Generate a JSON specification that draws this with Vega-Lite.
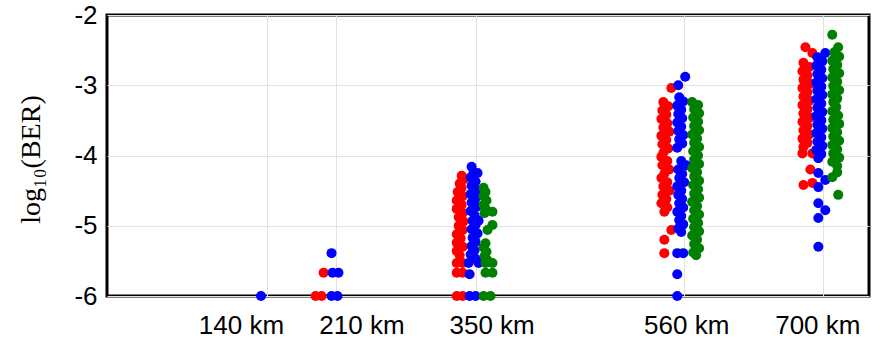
{
"$schema": "https://vega.github.io/schema/vega-lite/v6.json",
"width": 762, "height": 281,
"autosize": "none",
"padding": {"left": 107, "top": 15, "right": 6, "bottom": 46},
"background": "white",
"config": {"view": {"stroke": "black", "strokeWidth": 3}},
"datasets": {
"pts": [
{"km":189,"log_ber":-6,"series":"A"},{"km":195,"log_ber":-6,"series":"A"},{"km":197,"log_ber":-5.67,"series":"A"},
{"km":331,"log_ber":-6,"series":"A"},{"km":337,"log_ber":-6,"series":"A"},{"km":331,"log_ber":-5.67,"series":"A"},{"km":337,"log_ber":-5.67,"series":"A"},{"km":331,"log_ber":-5.53,"series":"A"},{"km":337,"log_ber":-5.53,"series":"A"},
{"km":334,"log_ber":-5.42,"series":"A"},{"km":331,"log_ber":-5.36,"series":"A"},{"km":337,"log_ber":-5.3,"series":"A"},{"km":331,"log_ber":-5.24,"series":"A"},{"km":335,"log_ber":-5.18,"series":"A"},{"km":331,"log_ber":-5.12,"series":"A"},{"km":337,"log_ber":-5.06,"series":"A"},{"km":333,"log_ber":-5.0,"series":"A"},{"km":338,"log_ber":-4.94,"series":"A"},{"km":333,"log_ber":-4.88,"series":"A"},{"km":337,"log_ber":-4.82,"series":"A"},{"km":331,"log_ber":-4.76,"series":"A"},{"km":336,"log_ber":-4.7,"series":"A"},{"km":331,"log_ber":-4.64,"series":"A"},{"km":337,"log_ber":-4.58,"series":"A"},{"km":332,"log_ber":-4.52,"series":"A"},{"km":336,"log_ber":-4.46,"series":"A"},{"km":334,"log_ber":-4.4,"series":"A"},{"km":338,"log_ber":-4.34,"series":"A"},{"km":336,"log_ber":-4.29,"series":"A"},
{"km":547,"log_ber":-3.04,"series":"A"},{"km":539,"log_ber":-3.24,"series":"A"},{"km":544,"log_ber":-3.3,"series":"A"},{"km":538,"log_ber":-3.36,"series":"A"},{"km":542,"log_ber":-3.42,"series":"A"},{"km":537,"log_ber":-3.48,"series":"A"},{"km":543,"log_ber":-3.54,"series":"A"},{"km":539,"log_ber":-3.6,"series":"A"},{"km":545,"log_ber":-3.66,"series":"A"},{"km":537,"log_ber":-3.72,"series":"A"},{"km":542,"log_ber":-3.78,"series":"A"},{"km":538,"log_ber":-3.84,"series":"A"},{"km":544,"log_ber":-3.9,"series":"A"},{"km":539,"log_ber":-3.96,"series":"A"},{"km":537,"log_ber":-4.02,"series":"A"},{"km":543,"log_ber":-4.08,"series":"A"},{"km":538,"log_ber":-4.14,"series":"A"},{"km":545,"log_ber":-4.2,"series":"A"},{"km":540,"log_ber":-4.26,"series":"A"},{"km":537,"log_ber":-4.32,"series":"A"},{"km":543,"log_ber":-4.38,"series":"A"},{"km":539,"log_ber":-4.44,"series":"A"},{"km":545,"log_ber":-4.5,"series":"A"},{"km":538,"log_ber":-4.56,"series":"A"},{"km":542,"log_ber":-4.62,"series":"A"},{"km":537,"log_ber":-4.68,"series":"A"},{"km":543,"log_ber":-4.74,"series":"A"},{"km":540,"log_ber":-4.8,"series":"A"},{"km":547,"log_ber":-5.06,"series":"A"},{"km":540,"log_ber":-5.2,"series":"A"},{"km":540,"log_ber":-5.39,"series":"A"},
{"km":682,"log_ber":-2.46,"series":"A"},{"km":689,"log_ber":-2.54,"series":"A"},{"km":680,"log_ber":-2.68,"series":"A"},{"km":686,"log_ber":-2.74,"series":"A"},{"km":679,"log_ber":-2.8,"series":"A"},{"km":684,"log_ber":-2.86,"series":"A"},{"km":680,"log_ber":-2.92,"series":"A"},{"km":687,"log_ber":-2.98,"series":"A"},{"km":679,"log_ber":-3.04,"series":"A"},{"km":684,"log_ber":-3.1,"series":"A"},{"km":680,"log_ber":-3.16,"series":"A"},{"km":686,"log_ber":-3.22,"series":"A"},{"km":679,"log_ber":-3.28,"series":"A"},{"km":684,"log_ber":-3.34,"series":"A"},{"km":680,"log_ber":-3.4,"series":"A"},{"km":687,"log_ber":-3.46,"series":"A"},{"km":679,"log_ber":-3.52,"series":"A"},{"km":684,"log_ber":-3.58,"series":"A"},{"km":680,"log_ber":-3.64,"series":"A"},{"km":686,"log_ber":-3.7,"series":"A"},{"km":679,"log_ber":-3.76,"series":"A"},{"km":684,"log_ber":-3.82,"series":"A"},{"km":680,"log_ber":-3.88,"series":"A"},{"km":679,"log_ber":-3.97,"series":"A"},{"km":689,"log_ber":-3.97,"series":"A"},{"km":687,"log_ber":-4.2,"series":"A"},{"km":689,"log_ber":-4.39,"series":"A"},{"km":680,"log_ber":-4.42,"series":"A"},
{"km":134,"log_ber":-6,"series":"B"},
{"km":205,"log_ber":-6,"series":"B"},{"km":211,"log_ber":-6,"series":"B"},{"km":206,"log_ber":-5.67,"series":"B"},{"km":212,"log_ber":-5.67,"series":"B"},{"km":205,"log_ber":-5.39,"series":"B"},
{"km":346,"log_ber":-4.16,"series":"B"},{"km":348,"log_ber":-4.25,"series":"B"},{"km":352,"log_ber":-4.25,"series":"B"},{"km":345,"log_ber":-4.31,"series":"B"},{"km":350,"log_ber":-4.37,"series":"B"},{"km":346,"log_ber":-4.43,"series":"B"},{"km":351,"log_ber":-4.49,"series":"B"},{"km":345,"log_ber":-4.55,"series":"B"},{"km":350,"log_ber":-4.61,"series":"B"},{"km":346,"log_ber":-4.67,"series":"B"},{"km":351,"log_ber":-4.73,"series":"B"},{"km":345,"log_ber":-4.79,"series":"B"},{"km":349,"log_ber":-4.85,"series":"B"},{"km":347,"log_ber":-4.93,"series":"B"},{"km":353,"log_ber":-4.93,"series":"B"},{"km":350,"log_ber":-4.99,"series":"B"},{"km":346,"log_ber":-5.05,"series":"B"},{"km":352,"log_ber":-5.11,"series":"B"},{"km":347,"log_ber":-5.17,"series":"B"},{"km":350,"log_ber":-5.23,"series":"B"},{"km":346,"log_ber":-5.29,"series":"B"},{"km":349,"log_ber":-5.35,"series":"B"},{"km":345,"log_ber":-5.41,"series":"B"},{"km":350,"log_ber":-5.47,"series":"B"},{"km":343,"log_ber":-5.53,"series":"B"},{"km":353,"log_ber":-5.53,"series":"B"},{"km":344,"log_ber":-5.69,"series":"B"},{"km":344,"log_ber":-6,"series":"B"},{"km":350,"log_ber":-6,"series":"B"},
{"km":561,"log_ber":-2.88,"series":"B"},{"km":554,"log_ber":-3.0,"series":"B"},{"km":555,"log_ber":-3.17,"series":"B"},{"km":559,"log_ber":-3.23,"series":"B"},{"km":553,"log_ber":-3.29,"series":"B"},{"km":557,"log_ber":-3.35,"series":"B"},{"km":554,"log_ber":-3.41,"series":"B"},{"km":558,"log_ber":-3.47,"series":"B"},{"km":553,"log_ber":-3.53,"series":"B"},{"km":557,"log_ber":-3.59,"series":"B"},{"km":554,"log_ber":-3.65,"series":"B"},{"km":559,"log_ber":-3.71,"series":"B"},{"km":555,"log_ber":-3.77,"series":"B"},{"km":558,"log_ber":-3.83,"series":"B"},{"km":553,"log_ber":-3.89,"series":"B"},{"km":557,"log_ber":-4.08,"series":"B"},{"km":562,"log_ber":-4.14,"series":"B"},{"km":554,"log_ber":-4.2,"series":"B"},{"km":558,"log_ber":-4.26,"series":"B"},{"km":555,"log_ber":-4.32,"series":"B"},{"km":560,"log_ber":-4.38,"series":"B"},{"km":553,"log_ber":-4.44,"series":"B"},{"km":557,"log_ber":-4.5,"series":"B"},{"km":554,"log_ber":-4.56,"series":"B"},{"km":558,"log_ber":-4.62,"series":"B"},{"km":555,"log_ber":-4.68,"series":"B"},{"km":559,"log_ber":-4.74,"series":"B"},{"km":553,"log_ber":-4.8,"series":"B"},{"km":557,"log_ber":-4.86,"series":"B"},{"km":555,"log_ber":-4.92,"series":"B"},{"km":559,"log_ber":-4.98,"series":"B"},{"km":554,"log_ber":-5.04,"series":"B"},{"km":557,"log_ber":-5.09,"series":"B"},{"km":553,"log_ber":-5.39,"series":"B"},{"km":559,"log_ber":-5.39,"series":"B"},{"km":553,"log_ber":-5.69,"series":"B"},{"km":553,"log_ber":-6,"series":"B"},
{"km":702,"log_ber":-2.54,"series":"B"},{"km":694,"log_ber":-2.6,"series":"B"},{"km":699,"log_ber":-2.66,"series":"B"},{"km":693,"log_ber":-2.72,"series":"B"},{"km":698,"log_ber":-2.78,"series":"B"},{"km":694,"log_ber":-2.84,"series":"B"},{"km":699,"log_ber":-2.9,"series":"B"},{"km":693,"log_ber":-2.96,"series":"B"},{"km":698,"log_ber":-3.02,"series":"B"},{"km":694,"log_ber":-3.08,"series":"B"},{"km":699,"log_ber":-3.14,"series":"B"},{"km":693,"log_ber":-3.2,"series":"B"},{"km":698,"log_ber":-3.26,"series":"B"},{"km":694,"log_ber":-3.32,"series":"B"},{"km":699,"log_ber":-3.38,"series":"B"},{"km":693,"log_ber":-3.44,"series":"B"},{"km":698,"log_ber":-3.5,"series":"B"},{"km":694,"log_ber":-3.56,"series":"B"},{"km":699,"log_ber":-3.62,"series":"B"},{"km":693,"log_ber":-3.68,"series":"B"},{"km":698,"log_ber":-3.74,"series":"B"},{"km":694,"log_ber":-3.8,"series":"B"},{"km":699,"log_ber":-3.86,"series":"B"},{"km":693,"log_ber":-3.92,"series":"B"},{"km":698,"log_ber":-3.98,"series":"B"},{"km":695,"log_ber":-4.04,"series":"B"},{"km":695,"log_ber":-4.25,"series":"B"},{"km":702,"log_ber":-4.35,"series":"B"},{"km":695,"log_ber":-4.45,"series":"B"},{"km":695,"log_ber":-4.68,"series":"B"},{"km":702,"log_ber":-4.78,"series":"B"},{"km":695,"log_ber":-4.89,"series":"B"},{"km":695,"log_ber":-5.3,"series":"B"},
{"km":358,"log_ber":-4.46,"series":"C"},{"km":360,"log_ber":-4.52,"series":"C"},{"km":358,"log_ber":-4.58,"series":"C"},{"km":361,"log_ber":-4.64,"series":"C"},{"km":358,"log_ber":-4.7,"series":"C"},{"km":360,"log_ber":-4.76,"series":"C"},{"km":359,"log_ber":-4.82,"series":"C"},{"km":367,"log_ber":-4.8,"series":"C"},{"km":367,"log_ber":-4.99,"series":"C"},{"km":362,"log_ber":-5.06,"series":"C"},{"km":360,"log_ber":-5.25,"series":"C"},{"km":358,"log_ber":-5.31,"series":"C"},{"km":361,"log_ber":-5.37,"series":"C"},{"km":359,"log_ber":-5.43,"series":"C"},{"km":362,"log_ber":-5.49,"series":"C"},{"km":360,"log_ber":-5.53,"series":"C"},{"km":367,"log_ber":-5.53,"series":"C"},{"km":360,"log_ber":-5.67,"series":"C"},{"km":367,"log_ber":-5.67,"series":"C"},{"km":358,"log_ber":-6,"series":"C"},{"km":365,"log_ber":-6,"series":"C"},
{"km":568,"log_ber":-3.24,"series":"C"},{"km":574,"log_ber":-3.28,"series":"C"},{"km":570,"log_ber":-3.34,"series":"C"},{"km":575,"log_ber":-3.4,"series":"C"},{"km":569,"log_ber":-3.46,"series":"C"},{"km":574,"log_ber":-3.52,"series":"C"},{"km":570,"log_ber":-3.58,"series":"C"},{"km":575,"log_ber":-3.64,"series":"C"},{"km":568,"log_ber":-3.7,"series":"C"},{"km":573,"log_ber":-3.76,"series":"C"},{"km":570,"log_ber":-3.82,"series":"C"},{"km":575,"log_ber":-3.88,"series":"C"},{"km":569,"log_ber":-3.94,"series":"C"},{"km":574,"log_ber":-4.0,"series":"C"},{"km":570,"log_ber":-4.06,"series":"C"},{"km":575,"log_ber":-4.12,"series":"C"},{"km":568,"log_ber":-4.18,"series":"C"},{"km":573,"log_ber":-4.24,"series":"C"},{"km":570,"log_ber":-4.3,"series":"C"},{"km":575,"log_ber":-4.36,"series":"C"},{"km":569,"log_ber":-4.42,"series":"C"},{"km":574,"log_ber":-4.48,"series":"C"},{"km":570,"log_ber":-4.54,"series":"C"},{"km":575,"log_ber":-4.6,"series":"C"},{"km":568,"log_ber":-4.66,"series":"C"},{"km":573,"log_ber":-4.72,"series":"C"},{"km":570,"log_ber":-4.78,"series":"C"},{"km":575,"log_ber":-4.84,"series":"C"},{"km":569,"log_ber":-4.9,"series":"C"},{"km":574,"log_ber":-4.96,"series":"C"},{"km":570,"log_ber":-5.02,"series":"C"},{"km":575,"log_ber":-5.08,"series":"C"},{"km":568,"log_ber":-5.14,"series":"C"},{"km":573,"log_ber":-5.2,"series":"C"},{"km":570,"log_ber":-5.26,"series":"C"},{"km":575,"log_ber":-5.32,"series":"C"},{"km":569,"log_ber":-5.38,"series":"C"},{"km":572,"log_ber":-5.42,"series":"C"},
{"km":709,"log_ber":-2.28,"series":"C"},{"km":715,"log_ber":-2.46,"series":"C"},{"km":711,"log_ber":-2.53,"series":"C"},{"km":716,"log_ber":-2.59,"series":"C"},{"km":709,"log_ber":-2.65,"series":"C"},{"km":714,"log_ber":-2.71,"series":"C"},{"km":710,"log_ber":-2.77,"series":"C"},{"km":716,"log_ber":-2.83,"series":"C"},{"km":709,"log_ber":-2.89,"series":"C"},{"km":714,"log_ber":-2.95,"series":"C"},{"km":710,"log_ber":-3.01,"series":"C"},{"km":716,"log_ber":-3.07,"series":"C"},{"km":709,"log_ber":-3.13,"series":"C"},{"km":714,"log_ber":-3.19,"series":"C"},{"km":710,"log_ber":-3.24,"series":"C"},{"km":713,"log_ber":-3.31,"series":"C"},{"km":709,"log_ber":-3.37,"series":"C"},{"km":715,"log_ber":-3.43,"series":"C"},{"km":710,"log_ber":-3.49,"series":"C"},{"km":716,"log_ber":-3.55,"series":"C"},{"km":709,"log_ber":-3.61,"series":"C"},{"km":714,"log_ber":-3.67,"series":"C"},{"km":710,"log_ber":-3.73,"series":"C"},{"km":716,"log_ber":-3.79,"series":"C"},{"km":709,"log_ber":-3.85,"series":"C"},{"km":714,"log_ber":-3.91,"series":"C"},{"km":710,"log_ber":-3.97,"series":"C"},{"km":716,"log_ber":-4.03,"series":"C"},{"km":709,"log_ber":-4.09,"series":"C"},{"km":714,"log_ber":-4.15,"series":"C"},{"km":714,"log_ber":-4.24,"series":"C"},{"km":709,"log_ber":-4.31,"series":"C"},{"km":715,"log_ber":-4.56,"series":"C"}
]
},
"data": {"name": "pts"},
"mark": {"type": "circle", "size": 100, "opacity": 1, "clip": false},
"encoding": {
  "x": {"field": "km", "type": "quantitative",
    "scale": {"domain": [-21, 746], "nice": false, "zero": false},
    "axis": {"values": [140, 210, 350, 560, 700], "labelExpr": "datum.value + ' km'", "title": null,
      "domain": false, "ticks": false, "grid": true, "gridColor": "#e2e2e2", "gridWidth": 1,
      "labelFont": "Liberation Sans", "labelFontSize": 26, "labelColor": "black", "labelPadding": 16,
      "labelFlush": false, "labelOverlap": false,
      "labelOffset": {"condition": [{"test": "datum.value == 140", "value": -26}, {"test": "datum.value == 210", "value": 25}, {"test": "datum.value == 350", "value": 16}, {"test": "datum.value == 700", "value": -6}], "value": 2}}},
  "y": {"field": "log_ber", "type": "quantitative",
    "scale": {"domain": [-6, -2], "nice": false, "zero": false},
    "axis": {"values": [-6, -5, -4, -3, -2], "labelExpr": "datum.value + ''", "title": "log₁₀(BER)",
      "domain": false, "ticks": false, "grid": true, "gridColor": "#e2e2e2", "gridWidth": 1,
      "labelFont": "Liberation Sans", "labelFontSize": 26, "labelColor": "black", "labelPadding": 10,
      "labelFlush": false, "labelOverlap": false,
      "titleFont": "Liberation Serif", "titleFontSize": 28, "titleFontWeight": "normal", "titleColor": "black",
      "titleAngle": -90, "titleAlign": "center", "titleBaseline": "middle", "titleX": -76, "titleY": 144}},
  "color": {"field": "series", "type": "nominal",
    "scale": {"domain": ["A", "B", "C"], "range": ["#ff0000", "#0000ff", "#008000"]}, "legend": null}
}
}
